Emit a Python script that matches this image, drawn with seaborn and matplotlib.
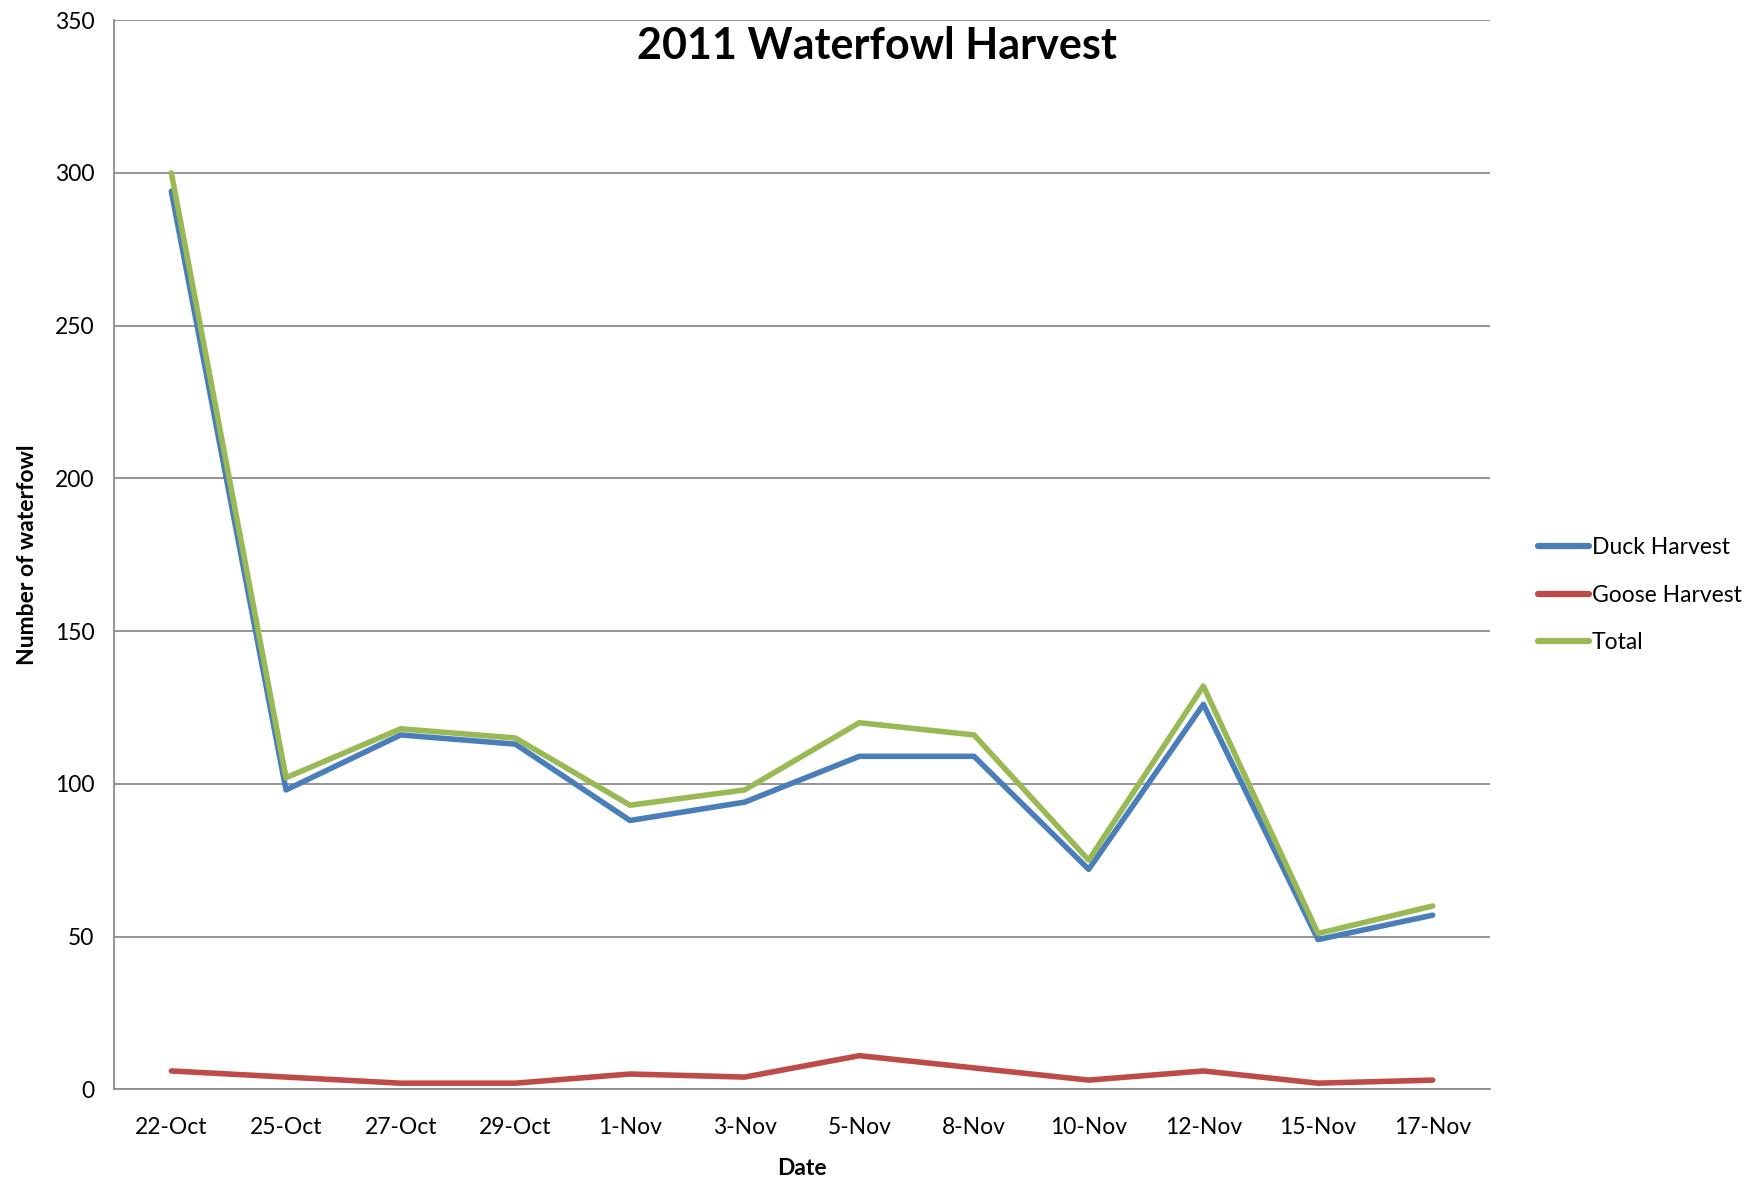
import matplotlib
matplotlib.use("Agg")
import matplotlib.pyplot as plt
import seaborn as sns
import pandas as pd
import numpy as np

dates = ["22-Oct", "25-Oct", "27-Oct", "29-Oct", "1-Nov", "3-Nov",
         "5-Nov", "8-Nov", "10-Nov", "12-Nov", "15-Nov", "17-Nov"]
duck = [294, 98, 116, 113, 88, 94, 109, 109, 72, 126, 49, 57]
goose = [6, 4, 2, 2, 5, 4, 11, 7, 3, 6, 2, 3]
total = [300, 102, 118, 115, 93, 98, 120, 116, 75, 132, 51, 60]
series_names = ["Duck Harvest", "Goose Harvest", "Total"]
colors = ["#4A7EBB", "#BE4B48", "#98B954"]

rows = []
for name, vals in zip(series_names, [duck, goose, total]):
    for i, (d, v) in enumerate(zip(dates, vals)):
        rows.append({"idx": i, "Date": d, "value": v, "series": name})
df = pd.DataFrame(rows)

sns.set_theme(style="white")
plt.rcParams['font.family'] = ['Lato', 'DejaVu Sans']
plt.rcParams['text.color'] = 'black'
plt.rcParams['axes.labelcolor'] = 'black'
plt.rcParams['xtick.color'] = 'black'
plt.rcParams['ytick.color'] = 'black'

fig = plt.figure(figsize=(17.54, 11.84), dpi=100)
ax = fig.add_axes([0.065, 0.080, 0.7845, 0.903])

sns.lineplot(data=df, x="idx", y="value", hue="series", hue_order=series_names,
             palette=colors, linewidth=4.0, ax=ax, legend=True,
             solid_capstyle="round")

ax.set_xlim(-0.5, len(dates) - 0.5)
ax.set_ylim(0, 350)
ax.set_yticks(np.arange(0, 351, 50))
ax.yaxis.grid(True, color="#8C8C8C", linewidth=1.3)
ax.xaxis.grid(False)

ax.set_xticks(np.arange(len(dates)))
ax.set_xticklabels(dates, fontsize=16.5)
ax.set_xticks(np.arange(-0.5, len(dates)), minor=True)
ax.tick_params(axis="x", which="major", length=0, pad=20)
ax.tick_params(axis="x", which="minor", length=8, width=1.3, color="#8C8C8C", direction="out")
ax.tick_params(axis="y", which="major", length=8, width=1.3, color="#8C8C8C", direction="out",
               labelsize=16.5, labelcolor="black", pad=6)
ax.tick_params(axis="x", labelcolor="black")

for s in ["top", "right"]:
    ax.spines[s].set_visible(False)
for s in ["left", "bottom"]:
    ax.spines[s].set_color("#8C8C8C")
    ax.spines[s].set_linewidth(1.3)

ax.set_xlabel("Date", fontsize=16.5, fontweight="bold", labelpad=14, color="black")
ax.set_ylabel("Number of waterfowl", fontsize=16.5, fontweight="bold", labelpad=12, color="black")
fig.text(0.5, 0.961, "2011 Waterfowl Harvest", fontsize=31, fontweight="bold",
         ha="center", va="center", color="black")

leg = ax.legend(loc="center left", bbox_to_anchor=(1.02, 0.462), frameon=False,
                fontsize=16.5, handlelength=2.2, handletextpad=0.15, labelspacing=1.15)
for line in leg.get_lines():
    line.set_linewidth(4.5)
for t in leg.get_texts():
    t.set_color("black")

fig.savefig("out.png", dpi=100)
